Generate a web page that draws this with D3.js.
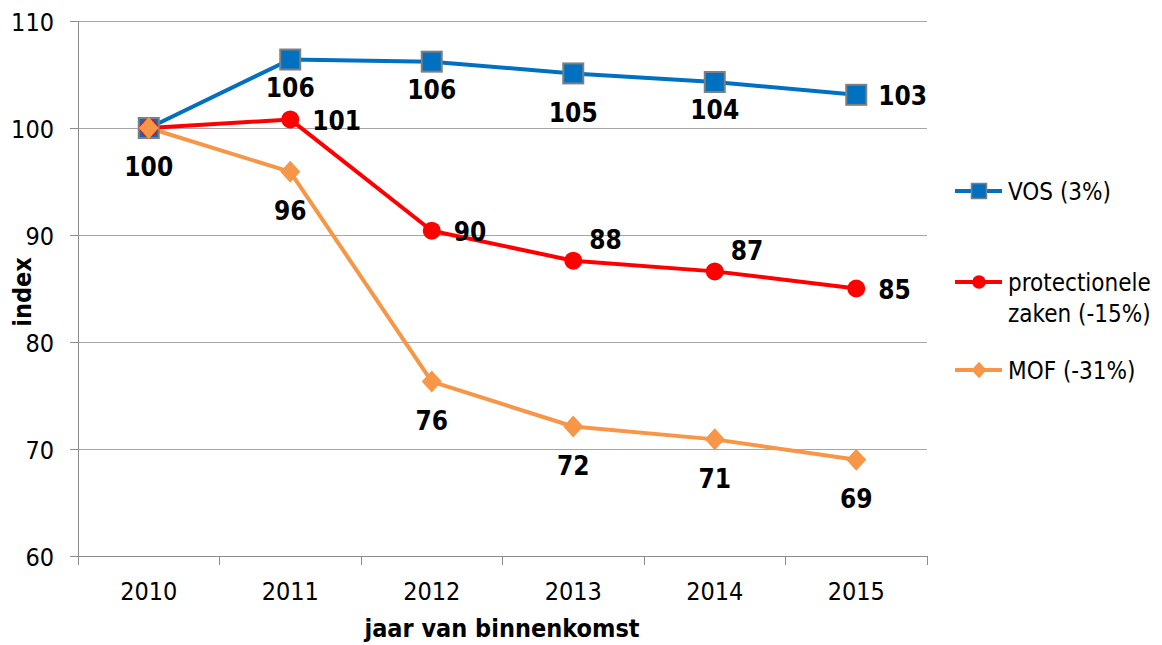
<!DOCTYPE html>
<head>
<meta charset="utf-8">
<style>
body { margin: 0; background: #fff; }
text { font-family: "DejaVu Sans Condensed", "DejaVu Sans", sans-serif; fill: #000; }
.grid line { stroke: #a6a6a6; stroke-width: 1px; shape-rendering: crispEdges; }
.axis path, .axis line { stroke: #8c8c8c; shape-rendering: crispEdges; }
.line { fill: none; stroke-width: 4px; stroke-linejoin: round; }
.lbl { font-weight: bold; font-size: 26px; }
.tick text { font-size: 25px; }
</style>
<script src="https://cdnjs.cloudflare.com/ajax/libs/d3/7.8.5/d3.min.js"></script>
</head>
<body>
<script>
"use strict";
// data
var years = ["2010", "2011", "2012", "2013", "2014", "2015"];
var vos = [100, 106.4, 106.2, 105.1, 104.3, 103.1];
var prot = [100, 100.8, 90.4, 87.6, 86.6, 85.0];
var mof = [100, 95.9, 76.3, 72.1, 70.9, 69.0];
var vosLabels = [100, 106, 106, 105, 104, 103];
var protLabels = [null, 101, 90, 88, 87, 85];
var mofLabels = [null, 96, 76, 72, 71, 69];
var yTicks = [60, 70, 80, 90, 100, 110];
// where each label sits relative to its point
var vosPlace = ["below", "below2", "below2", "below", "below2", "right"];
var protPlace = [null, "right", "right", "upright", "upright", "right"];
var mofPlace = [null, "below", "below", "below", "below", "below"];

var series = [
  {name: ["VOS (3%)"], values: vos, labels: vosLabels, place: vosPlace,
   color: "#0070c0", marker: "square"},
  {name: ["protectionele", "zaken (-15%)"], values: prot, labels: protLabels, place: protPlace,
   color: "#ff0000", marker: "circle"},
  {name: ["MOF (-31%)"], values: mof, labels: mofLabels, place: mofPlace,
   color: "#f79646", marker: "diamond"}
];

var W = 1162, H = 645;
var pLeft = 78, pRight = 927, pTop = 21, pBottom = 556;

var svg = d3.select("body").append("svg")
    .attr("width", W).attr("height", H);

var x = d3.scaleBand().domain(years).range([pLeft, pRight]);
var y = d3.scaleLinear().domain([60, 110]).range([pBottom, pTop]);

// horizontal gridlines + y labels
svg.append("g")
    .attr("class", "grid")
    .attr("transform", "translate(" + pLeft + ",0)")
    .call(d3.axisLeft(y).tickValues(yTicks).tickSize(-(pRight - pLeft)).tickFormat(""))
    .call(function(g) { g.select(".domain").remove(); });

svg.append("g")
    .attr("class", "axis y")
    .attr("transform", "translate(" + pLeft + ",0)")
    .call(d3.axisLeft(y).tickValues(yTicks).tickSize(8).tickPadding(16).tickFormat(d3.format("d")))
    .call(function(g) {
      g.select(".domain").attr("d", "M0," + pTop + "V" + (pBottom + 9));
      g.selectAll(".tick line").attr("stroke", "#a6a6a6");
      g.selectAll(".tick text").attr("dy", "0.36em");
    });

// x axis: ticks between categories
var xa = svg.append("g")
    .attr("class", "axis x")
    .attr("transform", "translate(0," + pBottom + ")");
xa.append("line").attr("x1", pLeft).attr("x2", pRight).attr("stroke", "#8c8c8c");
xa.selectAll(".xt")
    .data(years.concat(["end"]))
  .enter().append("line")
    .attr("x1", function(d, i) { return pLeft + i * x.step(); })
    .attr("x2", function(d, i) { return pLeft + i * x.step(); })
    .attr("y1", 0).attr("y2", 9)
    .attr("stroke", "#8c8c8c");
xa.selectAll(".xl")
    .data(years)
  .enter().append("text")
    .attr("x", function(d) { return x(d) + x.bandwidth() / 2; })
    .attr("y", 44)
    .attr("text-anchor", "middle")
    .style("font-size", "25px")
    .text(function(d) { return d; });

// axis titles
svg.append("text")
    .attr("transform", "translate(31,292) rotate(-90)")
    .attr("text-anchor", "middle")
    .style("font-weight", "bold").style("font-size", "25px")
    .text("index");
svg.append("text")
    .attr("x", 502).attr("y", 637)
    .attr("text-anchor", "middle")
    .style("font-weight", "bold").style("font-size", "25px")
    .text("jaar van binnenkomst");

function cx(i) { return x(years[i]) + x.bandwidth() / 2; }

function drawMarker(g, type, color) {
  if (type === "square") {
    g.append("rect").attr("x", -10).attr("y", -10).attr("width", 20).attr("height", 20)
        .attr("fill", color).attr("stroke", "#7f7f7f").attr("stroke-width", 2);
  } else if (type === "circle") {
    g.append("circle").attr("r", 9).attr("fill", color);
  } else {
    g.append("path").attr("d", "M0,-11L10,0L0,11L-10,0Z").attr("fill", color);
  }
}

var line = d3.line()
    .x(function(d, i) { return cx(i); })
    .y(function(d) { return y(d); });

series.forEach(function(s) {
  svg.append("path")
      .datum(s.values)
      .attr("class", "line")
      .attr("stroke", s.color)
      .attr("d", line);
});
series.forEach(function(s) {
  s.values.forEach(function(v, i) {
    var g = svg.append("g").attr("transform", "translate(" + cx(i) + "," + y(v) + ")");
    drawMarker(g, s.marker, s.color);
  });
});

var offsets = {
  below: {dx: 0, dy: 39, anchor: "middle"},
  below2: {dx: 0, dy: 28, anchor: "middle"},
  right: {dx: 22, dy: 1, anchor: "start"},
  upright: {dx: 16, dy: -21, anchor: "start"}
};
series.forEach(function(s) {
  s.labels.forEach(function(l, i) {
    if (l === null) return;
    var o = offsets[s.place[i]];
    svg.append("text")
        .attr("class", "lbl")
        .attr("x", cx(i) + o.dx)
        .attr("y", y(s.values[i]) + o.dy)
        .attr("dy", "0.36em")
        .attr("text-anchor", o.anchor)
        .text(l);
  });
});

// legend
var legY = [191, 282, 370];
series.forEach(function(s, k) {
  var g = svg.append("g").attr("transform", "translate(955," + legY[k] + ")");
  g.append("line").attr("x1", 0).attr("x2", 47)
      .attr("stroke", s.color).attr("stroke-width", 4);
  var m = g.append("g");
  drawMarker(m, s.marker, s.color);
  m.attr("transform", "translate(24,0) scale(0.75)");
  s.name.forEach(function(t, j) {
    g.append("text")
        .attr("x", 53).attr("y", j * 31)
        .attr("dy", "0.36em")
        .style("font-size", "24px")
        .text(t);
  });
});
</script>
</body>
